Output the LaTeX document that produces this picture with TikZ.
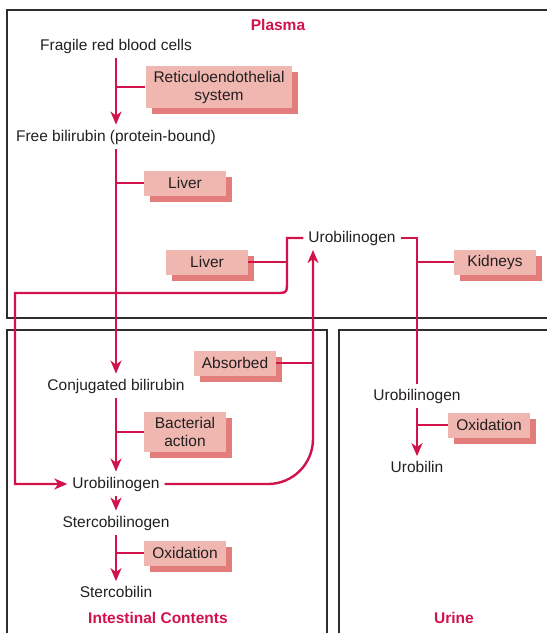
\documentclass[tikz,border=0pt]{standalone}
\usepackage{fontspec}
\setmainfont{Liberation Sans}
\usetikzlibrary{arrows.meta,shadows}
\definecolor{bili}{HTML}{D2124B}
\definecolor{rose}{HTML}{F0B7B1}
\definecolor{roseshade}{HTML}{E27D7B}
\definecolor{ink}{HTML}{231F20}
\definecolor{partition}{HTML}{2E2E2E}
\tikzset{
  txt/.style={text=ink,inner sep=5pt},
  proc/.style={fill=rose,text=ink,align=center,minimum width=82pt,minimum height=25pt,inner xsep=8pt,inner ysep=5pt,
    general shadow={shadow xshift=6pt,shadow yshift=-6pt,fill=roseshade}},
  link/.style={draw=bili,line width=2.4pt},
  flow/.style={link,-{Stealth[length=13pt,width=11pt,inset=4pt]}},
  region/.style={text=bili,font=\fontsize{15.5}{18}\selectfont\bfseries},
  wall/.style={draw=partition,line width=2pt}
}
\begin{document}
\begin{tikzpicture}[x=1pt,y=-1pt,font=\fontsize{15.5}{18}\selectfont]
\clip (0,0) rectangle (547,633);
% compartments
\draw[wall] (6.5,9.5) rectangle (560,318);
\draw[wall] (7,330) rectangle (326.5,660);
\draw[wall] (338.5,330) rectangle (560,660);
\node[region] (plas) at (278,25) {Plasma};
\node[region] (intc) at (158,618) {Intestinal Contents};
\node[region] (urin) at (454,618) {Urine};
% pigments
\node[txt] (frag) at (116,46) {Fragile red blood cells};
\node[txt] (free) at (116,137) {Free bilirubin (protein-bound)};
\node[txt] (conj) at (116,386) {Conjugated bilirubin};
\node[txt] (urobI) at (116,484) {Urobilinogen};
\node[txt] (sterc) at (116,523) {Stercobilinogen};
\node[txt] (stbil) at (116,592) {Stercobilin};
\node[txt] (urobP) at (352,238) {Urobilinogen};
\node[txt] (urobU) at (417,396) {Urobilinogen};
\node[txt] (ubil) at (417,467) {Urobilin};
% where it happens
\node[proc] (reti) at (219,87) {Reticuloendothelial\\system};
\node[proc] (liv1) at (185,183) {Liver};
\node[proc] (liv2) at (207,262) {Liver};
\node[proc] (absb) at (235,363) {Absorbed};
\node[proc] (bact) at (185,432) {Bacterial\\action};
\node[proc] (oxi1) at (185,553) {Oxidation};
\node[proc] (kidn) at (495,262) {Kidneys};
\node[proc] (oxi2) at (489,425) {Oxidation};
\coordinate (lA) at (287,281); \coordinate (lB) at (287,293);
\coordinate (lC) at (275,293); \coordinate (lD) at (15,293);
\coordinate (rtop) at (313,250);
% main line
\draw[flow] (frag) -- (free);
\draw[flow] (free) -- (conj);
\draw[flow] (conj) -- (urobI);
\draw[flow] (urobI) -- (sterc);
\draw[flow] (sterc) -- (stbil);
\draw[flow] (urobU) -- (ubil);
\draw[flow] (urobP.west) -| (lA) .. controls (lB) .. (lC) -- (lD) |- (urobI.west);
\draw[flow,rounded corners=45] (urobI.east) -| (rtop);
\draw[link] (urobP.east) -| (urobU.north);
% side branches
\draw[link] (reti.west) -- (reti.west -| frag);
\draw[link] (liv1.west) -- (liv1.west -| free);
\draw[link] (bact.west) -- (bact.west -| conj);
\draw[link] (oxi1.west) -- (oxi1.west -| sterc);
\draw[link] (liv2.east) -- (liv2.east -| lA);
\draw[link] (absb.east) -- (absb.east -| rtop);
\draw[link] (kidn.west) -- (kidn.west -| urobU);
\draw[link] (oxi2.west) -- (oxi2.west -| urobU);
\end{tikzpicture}
\end{document}
